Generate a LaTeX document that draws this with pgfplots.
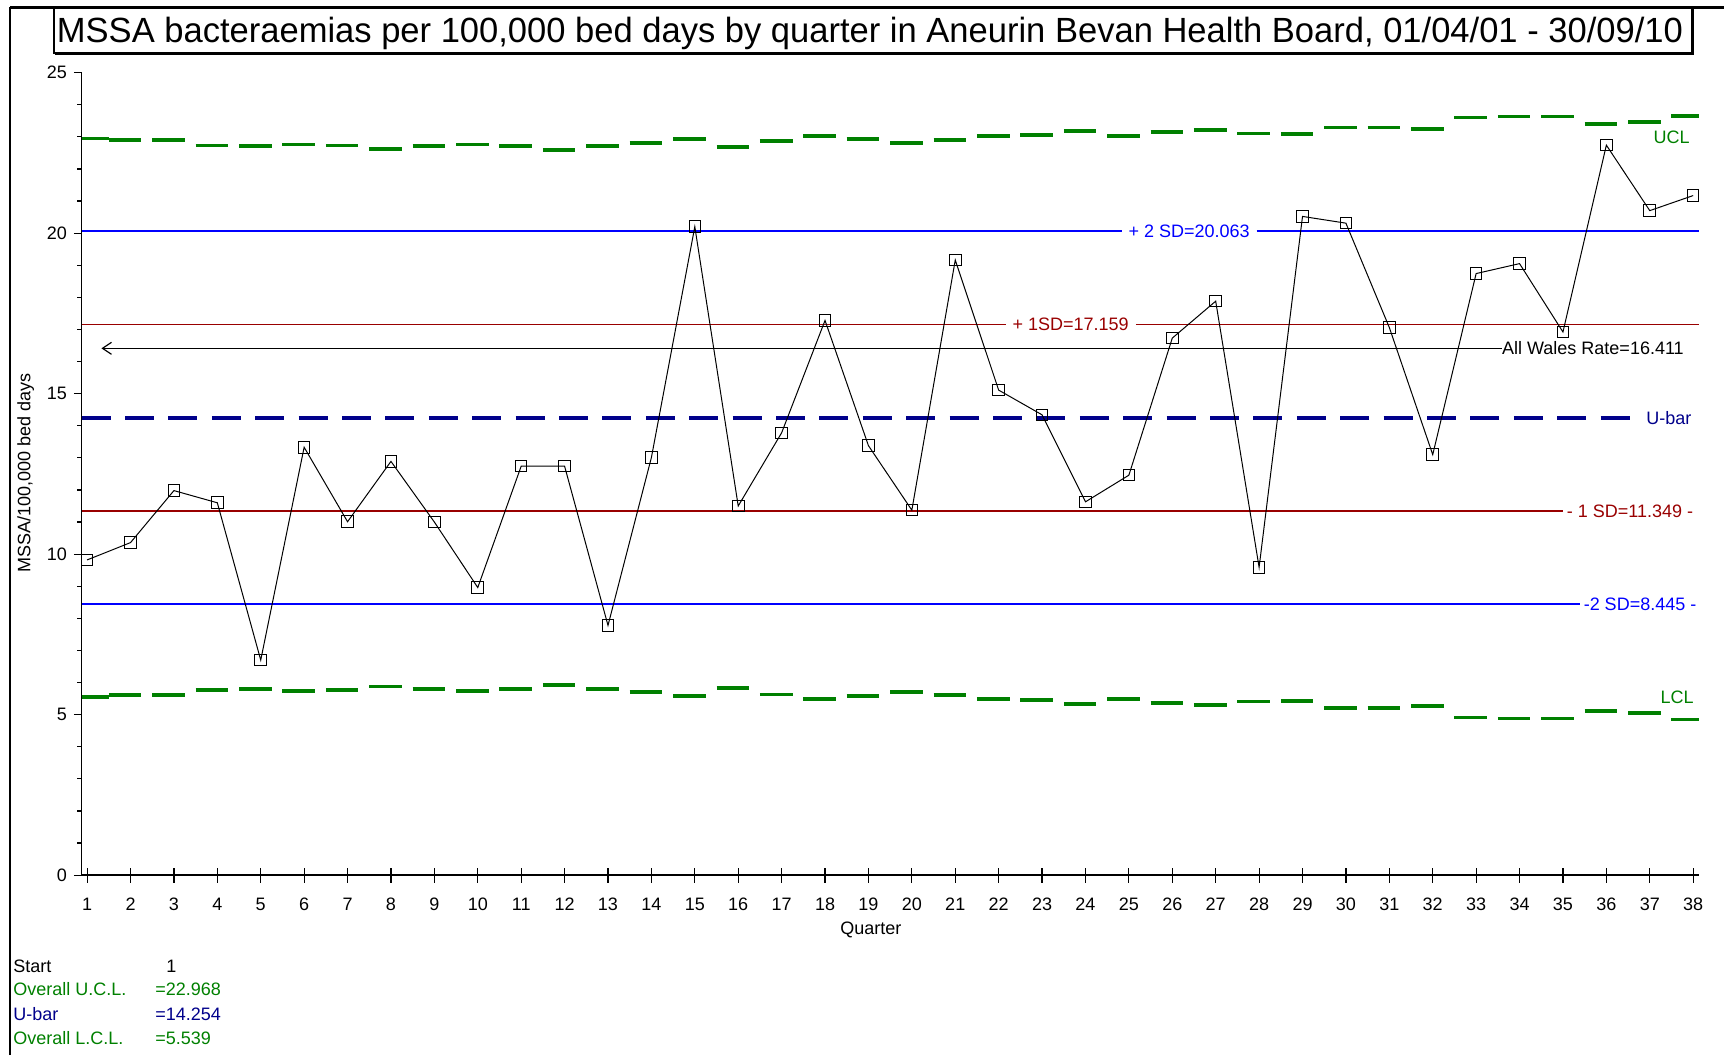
\documentclass[border=0pt]{standalone}
\usepackage{fontspec}
\setmainfont{Liberation Sans}
\usepackage{graphicx}
\usepackage{pgfplots}
\usepackage{pgfplotstable}
\pgfplotsset{compat=1.18}
\usetikzlibrary{arrows.meta}
\definecolor{sdblue}{RGB}{0,0,255}
\definecolor{sdred}{RGB}{153,0,0}
\definecolor{ubarc}{RGB}{0,0,139}
\definecolor{ctrl}{RGB}{0,128,0}
\newcommand{\lbl}{\fontsize{9pt}{10pt}\selectfont}

\pgfplotstableread{
q u
1 9.82
2 10.36
3 11.98
4 11.60
5 6.70
6 13.33
7 11.01
8 12.89
9 11.00
10 8.96
11 12.74
12 12.74
13 7.78
14 13.01
15 20.20
16 11.50
17 13.78
18 17.28
19 13.38
20 11.37
21 19.16
22 15.11
23 14.34
24 11.63
25 12.46
26 16.73
27 17.88
28 9.59
29 20.52
30 20.31
31 17.06
32 13.10
33 18.74
34 19.05
35 16.92
36 22.74
37 20.70
38 21.17
}\rates

\pgfplotstableread{
q ucl lcl
0.873 22.95 5.56
1 22.95 5.56
2 22.89 5.62
3 22.89 5.62
4 22.73 5.78
5 22.71 5.80
6 22.76 5.75
7 22.73 5.78
8 22.63 5.88
9 22.71 5.80
10 22.76 5.75
11 22.71 5.80
12 22.58 5.93
13 22.71 5.80
14 22.81 5.70
15 22.92 5.59
16 22.67 5.84
17 22.88 5.63
18 23.02 5.49
19 22.93 5.58
20 22.81 5.70
21 22.90 5.61
22 23.02 5.49
23 23.05 5.46
24 23.17 5.34
25 23.02 5.49
26 23.14 5.37
27 23.20 5.31
28 23.10 5.41
29 23.08 5.43
30 23.29 5.22
31 23.29 5.22
32 23.24 5.27
33 23.60 4.91
34 23.63 4.88
35 23.63 4.88
36 23.40 5.11
37 23.47 5.04
38 23.66 4.85
38.13 23.66 4.85
}\limits

\begin{document}
\begin{tikzpicture}
\path[use as bounding box] (0,0) rectangle (862pt,527.5pt);
% frame
\draw[black, line width=1pt] (5pt,0pt) -- (5pt,523.75pt);
\draw[black, line width=1.5pt] (5pt,523.75pt) -- (862pt,523.75pt);
% title box
\fill[white] (27pt,501pt) rectangle (846pt,523.75pt);
\draw[black, line width=1.2pt] (27pt,501pt) rectangle (846pt,523.75pt);
\draw[black, line width=0.8pt] (27.6pt,500.4pt) -- (846.6pt,500.4pt) -- (846.6pt,523pt);
\node[anchor=base, inner sep=0pt] at (435pt,506pt) {\resizebox{813pt}{\height}{\fontsize{17.5pt}{21pt}\selectfont MSSA bacteraemias per 100,000 bed days by quarter in Aneurin Bevan Health Board, 01/04/01 - 30/09/10}};

\begin{axis}[
  at={(40.8pt,89.9pt)}, anchor=south west,
  scale only axis, width=808.6pt, height=401.3pt,
  xmin=0.873, xmax=38.13, ymin=0, ymax=25,
  axis x line*=bottom, axis y line*=left,
  axis line style={line width=0.8pt},
  xtick={1,...,38}, ytick={0,5,10,15,20,25},
  minor y tick num=4,
  tick align=outside, major tick length=3.85pt, minor tick length=2.2pt,
  tick style={black, line width=0.6pt},
  ticklabel style={font=\lbl},
  xticklabel style={yshift=-4pt},
  /pgf/number format/assume math mode=true,
  clip=false,
]
\addplot[ctrl, line width=1.9pt, jump mark mid, dash pattern=on 16.3pt off 6pt] table[x=q,y=ucl]{\limits};
\addplot[ctrl, line width=1.9pt, jump mark mid, dash pattern=on 16.3pt off 6pt] table[x=q,y=lcl]{\limits};
\addplot[sdblue, line width=0.8pt] coordinates {(0.873,20.063) (24.83,20.063)};
\addplot[sdblue, line width=0.8pt] coordinates {(27.94,20.063) (38.13,20.063)};
\addplot[sdred, line width=0.8pt] coordinates {(0.873,17.159) (22.17,17.159)};
\addplot[sdred, line width=0.8pt] coordinates {(25.16,17.159) (38.13,17.159)};
\addplot[black, line width=0.6pt, {Straight Barb[length=4.5pt,width=6pt]}-] coordinates {(1.33,16.411) (33.59,16.411)};
\addplot[ubarc, line width=2pt, dash pattern=on 14.5pt off 7.2pt] coordinates {(0.873,14.254) (36.6,14.254)};
\addplot[sdred, line width=0.8pt] coordinates {(0.873,11.349) (35.01,11.349)};
\addplot[sdblue, line width=0.8pt] coordinates {(0.873,8.445) (35.39,8.445)};
\addplot[black, line width=0.5pt, mark=square, mark size=2.9pt, mark options={solid, line width=0.5pt}] table[x=q,y=u]{\rates};

\node[sdblue, font=\lbl, inner sep=0pt] at (axis cs:26.39,20.063) {+ 2 SD=20.063};
\node[sdred, font=\lbl, inner sep=0pt] at (axis cs:23.66,17.159) {+ 1SD=17.159};
\node[black, font=\lbl, inner sep=0pt, anchor=west] at (axis cs:33.59,16.411) {All Wales Rate=16.411};
\node[ubarc, font=\lbl, inner sep=0pt, anchor=west] at (axis cs:36.91,14.254) {U-bar};
\node[sdred, font=\lbl, inner sep=0pt, anchor=west] at (axis cs:35.08,11.349) {- 1 SD=11.349 -};
\node[sdblue, font=\lbl, inner sep=0pt, anchor=west] at (axis cs:35.47,8.445) {-2 SD=8.445 -};
\node[ctrl, font=\lbl, inner sep=0pt, anchor=west] at (axis cs:37.08,23.0) {UCL};
\node[ctrl, font=\lbl, inner sep=0pt, anchor=west] at (axis cs:37.24,5.55) {LCL};
\end{axis}

\begin{axis}[
  at={(40.8pt,89.9pt)}, anchor=south west,
  scale only axis, width=808.6pt, height=401.3pt,
  xmin=0.873, xmax=38.13, ymin=0, ymax=25,
  axis x line*=bottom, axis y line=none,
  axis line style={line width=0.8pt},
  xtick={1,...,38}, ytick=\empty,
  xticklabel style={text opacity=0},
  tick align=inside, major tick length=3.5pt,
  tick style={black, line width=0.6pt},
]
\end{axis}

% axis titles
\node[rotate=90, font=\lbl, inner sep=0pt] at (12.8pt,291.1pt) {MSSA/100,000 bed days};
\node[font=\lbl, inner sep=0pt] at (435.4pt,62.5pt) {Quarter};
% summary block
\node[anchor=base west, font=\lbl, inner sep=0pt] at (6.5pt,41.4pt) {Start};
\node[anchor=base west, font=\lbl, inner sep=0pt] at (83pt,41.4pt) {1};
\node[anchor=base west, font=\lbl, inner sep=0pt, ctrl] at (6.5pt,29.6pt) {Overall U.C.L.};
\node[anchor=base west, font=\lbl, inner sep=0pt, ctrl] at (77.5pt,29.6pt) {=22.968};
\node[anchor=base west, font=\lbl, inner sep=0pt, ubarc] at (6.5pt,17.25pt) {U-bar};
\node[anchor=base west, font=\lbl, inner sep=0pt, ubarc] at (77.5pt,17.25pt) {=14.254};
\node[anchor=base west, font=\lbl, inner sep=0pt, ctrl] at (6.5pt,5.45pt) {Overall L.C.L.};
\node[anchor=base west, font=\lbl, inner sep=0pt, ctrl] at (77.5pt,5.45pt) {=5.539};
\end{tikzpicture}
\end{document}
